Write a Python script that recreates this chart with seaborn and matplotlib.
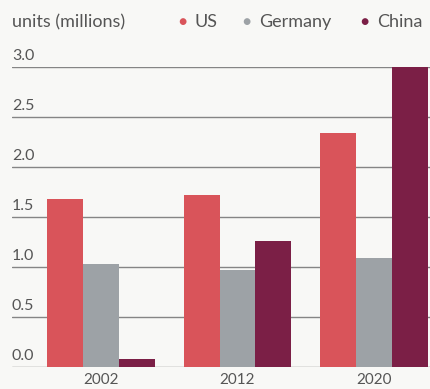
import matplotlib
matplotlib.use("Agg")
import matplotlib.pyplot as plt
import seaborn as sns
import pandas as pd
from matplotlib.transforms import blended_transform_factory

years = ["2002", "2012", "2020"]
countries = ["US", "Germany", "China"]
us = [1.68, 1.72, 2.34]
germany = [1.03, 0.97, 1.09]
china = [0.08, 1.26, 3.0]
ytick_vals = [0.0, 0.5, 1.0, 1.5, 2.0, 2.5, 3.0]
ytick_labels = ["0.0", "0.5", "1.0", "1.5", "2.0", "2.5", "3.0"]
colors = ["#d9545a", "#9da2a6", "#7b1f46"]

rows = []
for c, vals in zip(countries, [us, germany, china]):
    for y, v in zip(years, vals):
        rows.append({"year": y, "country": c, "value": v})
df = pd.DataFrame(rows)

sns.set_style("white")
plt.rcParams["font.family"] = ["Lato", "DejaVu Sans"]

bg = "#f8f8f6"
fig = plt.figure(figsize=(4.3, 3.89), dpi=100, facecolor=bg)
ax = fig.add_axes([12 / 430, 22 / 389, 418 / 430, 300 / 389])
ax.set_facecolor(bg)

sns.barplot(data=df, x="year", y="value", hue="country", order=years,
            hue_order=countries, palette=colors, width=0.79, gap=0,
            saturation=1, ax=ax, legend=False, zorder=3, linewidth=0,
            edgecolor="none")

ax.set_xlim(-0.652, 2.41)
ax.set_ylim(0, 3.0)
for s in ax.spines.values():
    s.set_visible(False)

for v in ytick_vals:
    ax.axhline(v, color="#858585", lw=1.0, zorder=2)

ax.set_yticks([])
trans = blended_transform_factory(ax.transAxes, ax.transData)
for v, lab in zip(ytick_vals, ytick_labels):
    ax.text(0, v + 0.04, lab, transform=trans, ha="left", va="bottom",
            fontsize=11.5, color="#555555")

ax.set_xlabel("")
ax.set_ylabel("")
ax.tick_params(axis="x", length=0, pad=4, labelsize=11, labelcolor="#555555")

fig.text(12 / 430, 1 - 22 / 389, "units (millions)", ha="left", va="center",
         fontsize=13, color="#555555")
leg_x = [182, 246, 364]
for x, c, col in zip(leg_x, countries, colors):
    fig.text(x / 430, 1 - 22 / 389, "\u25cf", ha="center", va="center",
             fontsize=10, color=col)
    fig.text((x + 13) / 430, 1 - 22 / 389, c, ha="left", va="center",
             fontsize=13, color="#555555")

fig.savefig("out.png", dpi=100, facecolor=bg)
